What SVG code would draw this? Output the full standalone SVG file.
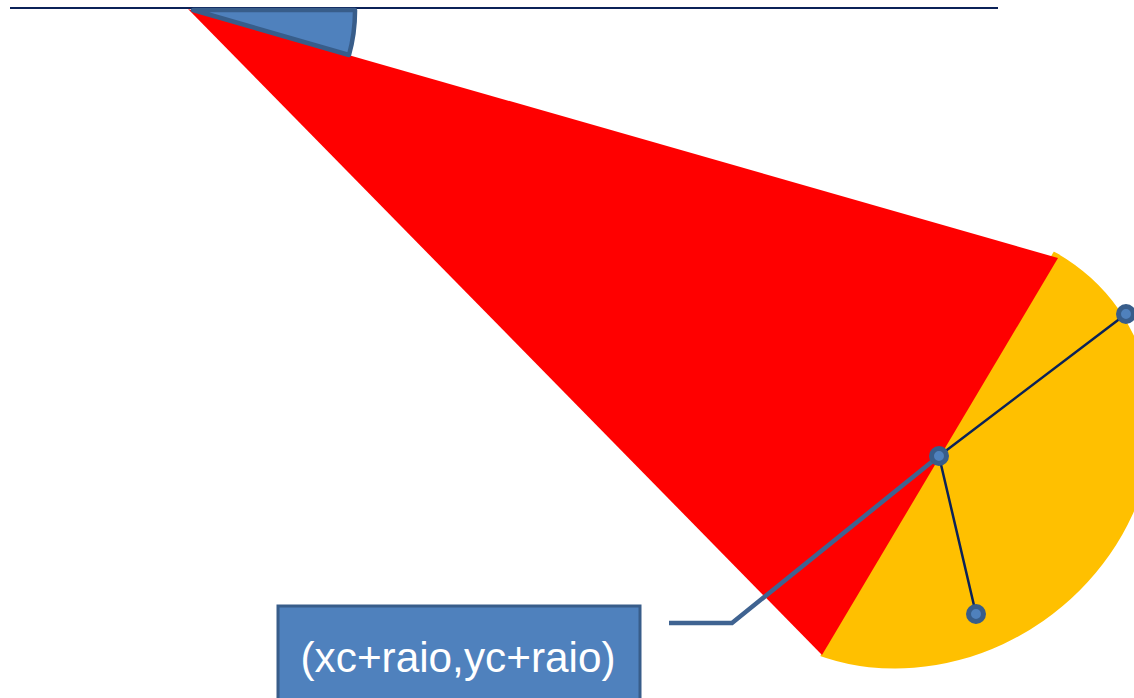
<svg xmlns="http://www.w3.org/2000/svg" width="1134" height="698" viewBox="0 0 1134 698">
<style>
.pt{fill:#4F81BD;stroke:#385D8A;stroke-width:5}
.navy{stroke:#0B2258;stroke-width:2.5;fill:none;stroke-linecap:round}
.callout{stroke:#3F6391;stroke-width:4.5;fill:none;stroke-linejoin:miter}
.lbl{font-family:'Liberation Sans',Arial,sans-serif;font-size:42px;fill:#FFFFFF}
</style>
<defs>
<clipPath id="pieClip">
<polygon points="1057,246 1300,246 1300,720 812,720 818,660"/>
</clipPath>
</defs>
<rect x="0" y="0" width="1134" height="698" fill="#FFFFFF"/>
<g id="baseline">
<line x1="10" y1="8" x2="998" y2="8" stroke="#0B2258" stroke-width="2"/>
</g>
<g id="yellow-circle" clip-path="url(#pieClip)">
<ellipse cx="922" cy="447" rx="240" ry="212" transform="rotate(-35 922 447)" fill="#FFC000"/>
</g>
<g id="red-triangle">
<polygon points="188,9 1058,258 822,655" fill="#FF0000"/>
</g>
<g id="angle-wedge">
<path d="M193,10 L355,10 A162,162 0 0 1 349,55 Z" fill="#4F81BD" stroke="#385D8A" stroke-width="4.5" stroke-linejoin="round"/>
</g>
<g id="connectors">
<line class="navy" x1="939" y1="456" x2="1126" y2="314"/>
<line class="navy" x1="939" y1="456" x2="976" y2="614"/>
<polyline class="callout" points="669,623 732,623 939,456"/>
</g>
<g id="point-center"><circle class="pt" cx="939" cy="456" r="7.5"/></g>
<g id="point-top"><circle class="pt" cx="1126" cy="314" r="7.5"/></g>
<g id="point-bottom"><circle class="pt" cx="976" cy="614" r="7.5"/></g>
<g id="label">
<rect x="278" y="606" width="362" height="94" fill="#4F81BD" stroke="#385D8A" stroke-width="3"/>
<text class="lbl" x="458" y="672" text-anchor="middle" textLength="315" lengthAdjust="spacingAndGlyphs">(xc+raio,yc+raio)</text>
</g>
</svg>
